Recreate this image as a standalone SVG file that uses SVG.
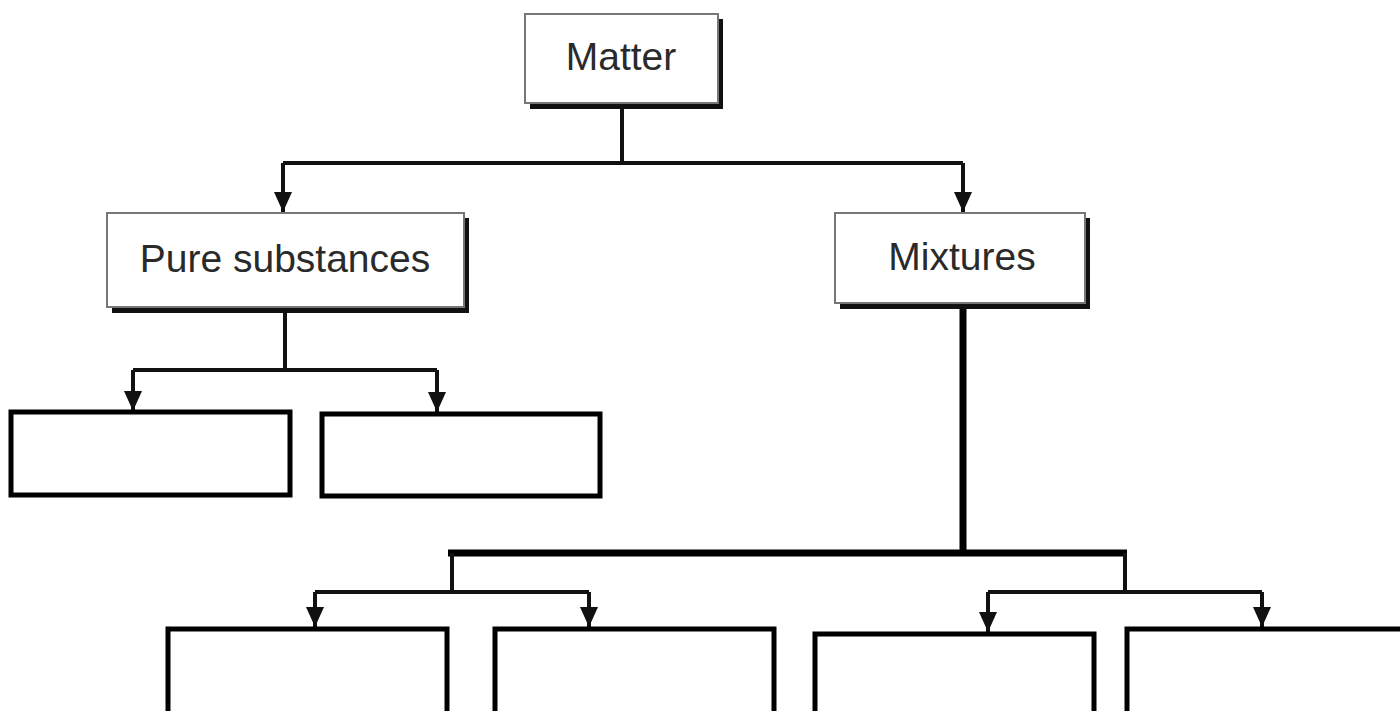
<svg xmlns="http://www.w3.org/2000/svg" width="1400" height="711" viewBox="0 0 1400 711">
<style>
.shadow{fill:#111}
.box{fill:#fff;stroke:#777;stroke-width:2}
.blank{fill:#fff;stroke:#000;stroke-width:5}
.lbl{font-family:"Liberation Sans",Arial,sans-serif;font-size:39px;fill:#2a2a2a;text-anchor:middle}
.thin{fill:none;stroke:#111;stroke-width:4}
.thick{fill:none;stroke:#000;stroke-width:7}
</style>
<defs>
<marker id="arr" viewBox="0 0 10 9" refX="10" refY="4.5" markerWidth="5" markerHeight="4.5" markerUnits="strokeWidth" orient="auto">
<path d="M0,0 L10,4.5 L0,9 z" fill="#111"/>
</marker>
</defs>
<rect width="1400" height="711" fill="#fff"/>
<g id="connectors">
<path class="thin" d="M622,106 V163"/>
<path class="thin" d="M283,163 H963"/>
<path class="thin" d="M283,163 V212" marker-end="url(#arr)"/>
<path class="thin" d="M963,163 V212" marker-end="url(#arr)"/>
<path class="thin" d="M285,310 V370"/>
<path class="thin" d="M133,370 H437"/>
<path class="thin" d="M133,370 V411" marker-end="url(#arr)"/>
<path class="thin" d="M437,370 V412" marker-end="url(#arr)"/>
<path class="thick" d="M963,303 V553"/>
<path class="thick" d="M448,553 H1127"/>
<path class="thin" d="M452,553 V592"/>
<path class="thin" d="M315,592 H589"/>
<path class="thin" d="M315,592 V627" marker-end="url(#arr)"/>
<path class="thin" d="M589,592 V627" marker-end="url(#arr)"/>
<path class="thin" d="M1125,553 V592"/>
<path class="thin" d="M988,592 H1262"/>
<path class="thin" d="M988,592 V632" marker-end="url(#arr)"/>
<path class="thin" d="M1262,592 V627" marker-end="url(#arr)"/>
</g>
<g id="matter">
<rect class="shadow" x="530" y="19" width="193" height="90"/>
<rect class="box" x="525" y="14" width="193" height="89"/>
<text class="lbl" x="621" y="70">Matter</text>
</g>
<g id="pure">
<rect class="shadow" x="112" y="218" width="357" height="95"/>
<rect class="box" x="107" y="213" width="357" height="94"/>
<text class="lbl" x="285" y="272">Pure substances</text>
</g>
<g id="mixtures">
<rect class="shadow" x="840" y="218" width="250" height="91"/>
<rect class="box" x="835" y="213" width="250" height="90"/>
<text class="lbl" x="962" y="270">Mixtures</text>
</g>
<g id="blank1"><rect class="blank" x="11" y="412" width="279" height="83"/></g>
<g id="blank2"><rect class="blank" x="322" y="414" width="278" height="82"/></g>
<g id="blank3"><rect class="blank" x="168" y="629" width="279" height="90"/></g>
<g id="blank4"><rect class="blank" x="495" y="629" width="279" height="90"/></g>
<g id="blank5"><rect class="blank" x="815" y="634" width="279" height="90"/></g>
<g id="blank6"><rect class="blank" x="1127" y="629" width="290" height="90"/></g>
</svg>
